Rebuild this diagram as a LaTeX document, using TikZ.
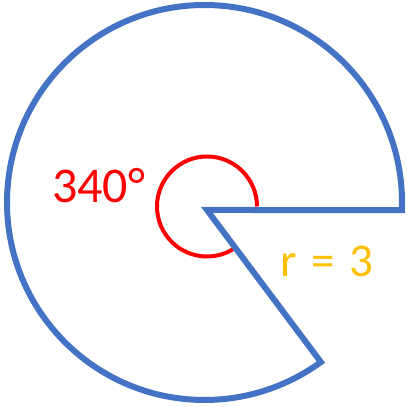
\documentclass[tikz,border=0pt]{standalone}
\usepackage{fontspec}
\setmainfont{Carlito}
\newfontfamily\rfont{Carlito}
\definecolor{officeblue}{HTML}{4472C4}
\definecolor{gold}{HTML}{FFC000}
\tikzset{
  sectorline/.style={draw=officeblue, line width=6pt, line join=miter},
  anglemark/.style={draw=red, line width=4pt},
  anglelabel/.style={text=red, inner sep=0pt, anchor=base west, font=\fontsize{50}{50}\selectfont},
  radiuslabel/.style={text=gold, inner sep=0pt, anchor=base west, font=\rfont\fontsize{47}{48}\selectfont},
}
\begin{document}
\begin{tikzpicture}[x=1pt,y=1pt]
\useasboundingbox (0,0) rectangle (407,407);
\coordinate (C) at (204.5,204.5);
\coordinate (V) at (207,197);
\coordinate (R) at (207,200.5);
\draw[anglemark] ([shift={(0:50)}]R) arc[start angle=0, end angle=306, radius=50];
\draw[sectorline] (V) -- ([shift={(-2.18:197.5)}]C) arc[start angle=-2.18, end angle=306.1, radius=197.5] -- cycle;
\node[anglelabel] (ang) at (52,204) {340°};
\node[radiuslabel] (rad) at (280,130) {r\hspace{15pt}=\hspace{15pt}3};
\end{tikzpicture}
\end{document}
